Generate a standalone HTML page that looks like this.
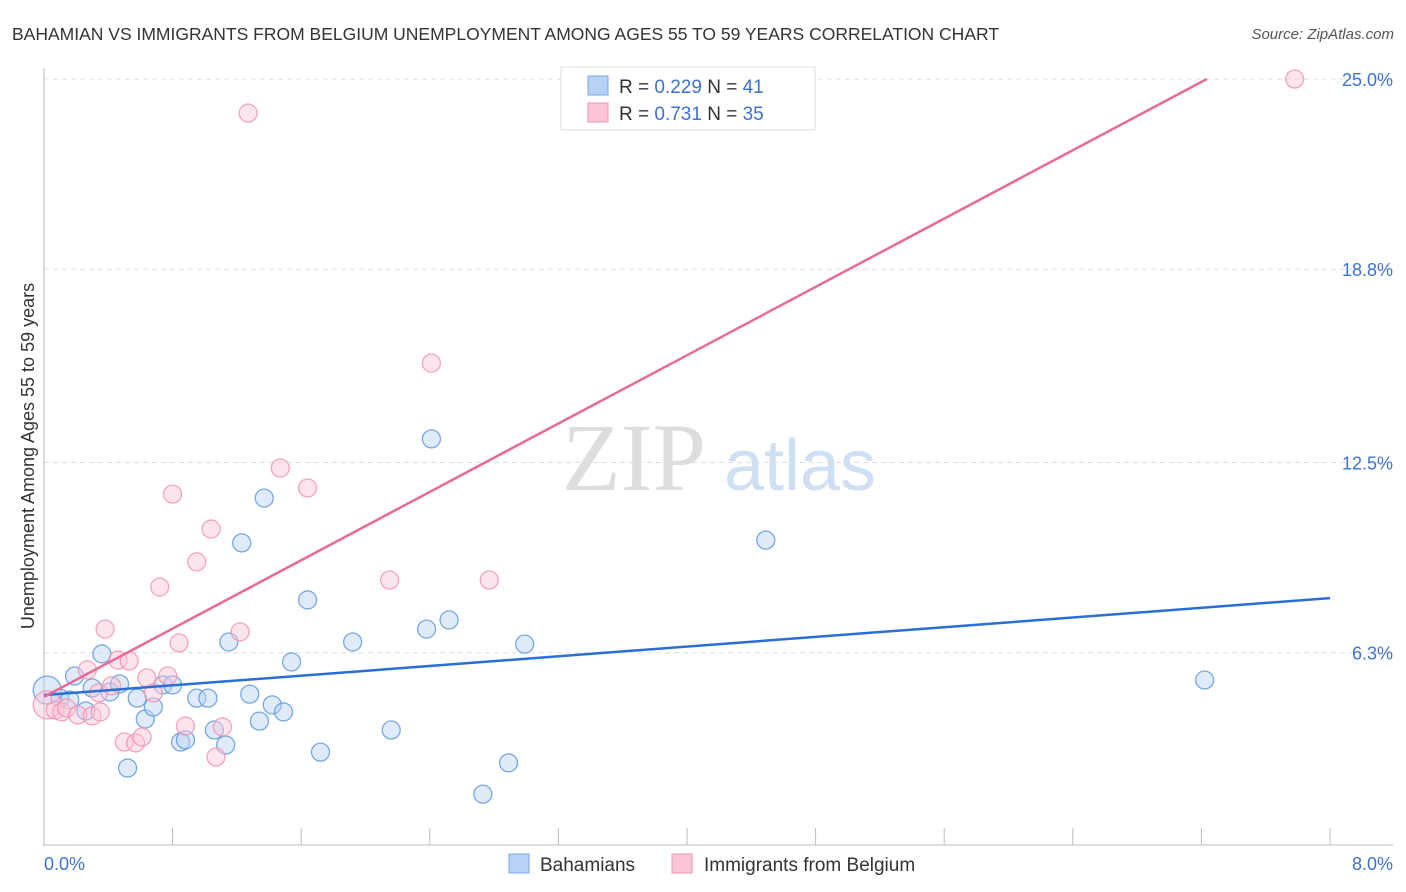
<!DOCTYPE html>
<html><head><meta charset="utf-8">
<style>
body{margin:0;background:#fff;font-family:"Liberation Sans",sans-serif;}
#c{position:relative;width:1406px;height:892px;overflow:hidden;}
</style></head>
<body>
<div id="c">
<svg id="s" width="1406" height="892" xmlns="http://www.w3.org/2000/svg">
<text x="12" y="40" font-size="17.5" fill="#333">BAHAMIAN VS IMMIGRANTS FROM BELGIUM UNEMPLOYMENT AMONG AGES 55 TO 59 YEARS CORRELATION CHART</text>
<text x="1394" y="39" font-size="15" fill="#555" font-style="italic" text-anchor="end">Source: ZipAtlas.com</text>
<text x="634" y="490" font-size="96" fill="#ddd" font-family="Liberation Serif,serif" text-anchor="middle">ZIP</text>
<text x="800" y="490" font-size="72" fill="#cfe0f5" text-anchor="middle">atlas</text>
<text transform="translate(34,456) rotate(-90)" font-size="18" fill="#333" text-anchor="middle">Unemployment Among Ages 55 to 59 years</text>
<g id="grid"></g><g id="pts"></g><g id="lines"></g>
<g>
<rect x="561" y="67" width="254" height="63" fill="#fff" stroke="#ddd"/>
<rect x="588" y="76" width="20" height="19" fill="#b8d2f5" stroke="#7aa7e6"/>
<rect x="588" y="103" width="20" height="19" fill="#fcc6d6" stroke="#f093b0"/>
<text x="619" y="93" font-size="19" fill="#333">R = <tspan fill="#3b74d0">0.229</tspan>   N = <tspan fill="#3b74d0"> 41</tspan></text>
<text x="619" y="120" font-size="19" fill="#333">R =  <tspan fill="#3b74d0">0.731</tspan>   N = <tspan fill="#3b74d0">35</tspan></text>
</g>
<g>
<rect x="509" y="854" width="20" height="19" fill="#b8d2f5" stroke="#7aa7e6"/>
<text x="540" y="871" font-size="19" fill="#333">Bahamians</text>
<rect x="672" y="854" width="20" height="19" fill="#fcc6d6" stroke="#f093b0"/>
<text x="704" y="871" font-size="19" fill="#333">Immigrants from Belgium</text>
</g>
</svg>
</div>
<script>
const blueX=[.02,.10,.16,.19,.26,.30,.36,.41,.47,.52,.58,.63,.68,.74,.80,.85,.88,.95,1.02,1.06,1.13,1.15,1.23,1.28,1.34,1.37,1.42,1.49,1.54,1.64,1.72,1.92,2.16,2.38,2.41,2.52,2.73,2.89,2.99,4.49,7.22];
const blueY=[5.08,4.82,4.76,5.54,4.40,5.15,6.26,5.02,5.28,2.54,4.82,4.14,4.53,5.25,5.25,3.39,3.46,4.82,4.82,3.78,3.29,6.65,9.88,4.95,4.07,11.34,4.60,4.37,6.00,8.02,3.06,6.65,3.78,7.07,13.27,7.37,1.69,2.71,6.58,9.97,5.41];
const pinkX=[.02,.07,.11,.14,.21,.27,.30,.34,.35,.38,.42,.46,.50,.53,.57,.61,.64,.68,.72,.77,.80,.84,.88,.95,1.04,1.07,1.11,1.22,1.27,1.47,1.64,2.15,2.41,2.77,7.78];
const pinkY=[4.60,4.43,4.37,4.50,4.27,5.74,4.24,4.99,4.37,7.07,5.22,6.06,3.39,6.03,3.36,3.55,5.48,4.99,8.44,5.54,11.47,6.62,3.91,9.26,10.33,2.90,3.88,6.98,23.89,12.32,11.67,8.67,15.74,8.67,25.0];
const blueTrend=[4.92,0.395];
const pinkTrend=[4.86,2.784];
const yTicks=[6.3,12.5,18.8,25.0];
const yTickLabels=["6.3%","12.5%","18.8%","25.0%"];
const xTicks=[0,0.8,1.6,2.4,3.2,4.0,4.8,5.6,6.4,7.2,8.0];
const NS="http://www.w3.org/2000/svg";
const X0=44,XR=1393,Y0=846;
function sx(v){return X0+v*160.75;}
function sy(v){return Y0-v*30.68;}
function mk(t,a,p){const e=document.createElementNS(NS,t);for(const k in a)e.setAttribute(k,a[k]);p.appendChild(e);return e;}
const grid=document.getElementById('grid');
yTicks.forEach((v,i)=>{
 const l=mk('line',{x1:X0,x2:XR,y1:sy(v),y2:sy(v),stroke:'#ddd','stroke-dasharray':'5,4'},grid);
 
 
 const t=mk('text',{x:1393,y:sy(v)+7,'font-size':18,fill:'#3b74d0','text-anchor':'end'},grid);
 t.textContent=yTickLabels[i];
 
 
});
const ax=mk('line',{x1:X0,x2:X0,y1:68,y2:846,stroke:'#bbb'},grid);


const bx=mk('line',{x1:X0,x2:XR,y1:845,y2:845,stroke:'#bbb'},grid);


xTicks.forEach(v=>{
 const t=mk('line',{x1:sx(v),x2:sx(v),y1:828,y2:845,stroke:'#bbb'},grid);
 
 
});
const xl0=mk('text',{x:44,y:870,'font-size':18,fill:'#3b74d0'},grid);xl0.textContent="0.0%";


const xl1=mk('text',{x:1393,y:870,'font-size':18,fill:'#3b74d0','text-anchor':'end'},grid);xl1.textContent="8.0%";


const pts=document.getElementById('pts');
function dots(xs,ys,fill,stroke,name){
 xs.forEach((x,i)=>{
  const r=i===0?14:9;
  const c=mk('circle',{cx:sx(x),cy:sy(ys[i]),r:r,fill:fill,'fill-opacity':0.45,stroke:stroke,'stroke-opacity':0.8,'stroke-width':1.3},pts);
  
  
 });
}
dots(blueX,blueY,'#b8d2f5','#5a93e0','point-bahamians');
dots(pinkX,pinkY,'#fcc6d6','#f090ae','point-belgium');
const lines=document.getElementById('lines');
const bl=mk('line',{x1:sx(0),y1:sy(blueTrend[0]),x2:sx(8),y2:sy(blueTrend[0]+blueTrend[1]*8),stroke:'#2a6fd6','stroke-width':2.5},lines);


const xe=(25-pinkTrend[0])/pinkTrend[1];
const pl=mk('line',{x1:sx(0),y1:sy(pinkTrend[0]),x2:sx(xe),y2:sy(25),stroke:'#e8699a','stroke-width':2.5},lines);


</script>
</body></html>
